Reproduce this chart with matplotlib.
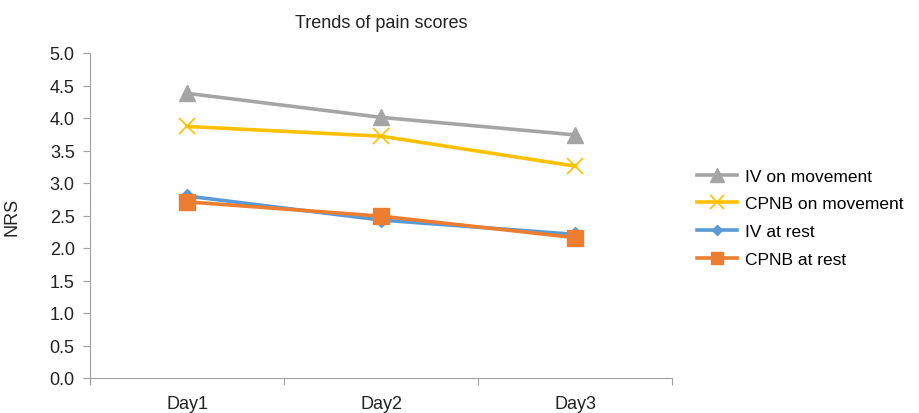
import numpy as np
import matplotlib.pyplot as plt

plt.rcParams['font.family'] = ['Liberation Sans', 'DejaVu Sans']

#data
days = ['Day1', 'Day2', 'Day3']
iv_move = [4.38, 4.01, 3.74]
cpnb_move = [3.87, 3.72, 3.26]
iv_rest = [2.80, 2.43, 2.21]
cpnb_rest = [2.71, 2.49, 2.16]

fig = plt.figure(figsize=(9.19, 4.14), dpi=100)
ax = fig.add_axes([90/919, 35/414, 582/919, 325/414])

x = np.arange(len(days)) + 0.5
ax.plot(x, iv_move, color='#A5A5A5', lw=2.6, marker='^', ms=12, label='IV on movement')
ax.plot(x, cpnb_move, color='#FFC000', lw=2.6, marker='x', ms=12, mew=1.2, label='CPNB on movement')
ax.plot(x, iv_rest, color='#5B9BD5', lw=2.6, marker='D', ms=7, label='IV at rest')
ax.plot(x, cpnb_rest, color='#ED7D31', lw=2.6, marker='s', ms=11, label='CPNB at rest')

ax.set_xlim(0, 3)
ax.set_ylim(0, 5)
ax.set_yticks(np.arange(0, 5.01, 0.5))
ax.set_yticklabels(['%.1f' % v for v in np.arange(0, 5.01, 0.5)])
ax.set_xticks([0, 1, 2, 3])
ax.set_xticklabels([])
ax.set_xticks(x, minor=True)
ax.set_xticklabels(days, minor=True)
ax.tick_params(axis='x', which='minor', length=0, pad=12, labelsize=13, labelcolor='#222222')
ax.tick_params(axis='both', which='major', color='#A0A0A0', length=5, labelsize=13, labelcolor='#222222')
ax.tick_params(axis='y', pad=6)

for s in ['top', 'right']:
    ax.spines[s].set_visible(False)
for s in ['left', 'bottom']:
    ax.spines[s].set_color('#A0A0A0')

ax.set_ylabel('NRS', fontsize=13, color='#222222')
ax.yaxis.set_label_coords(-0.12, 0.5)
ax.set_title('Trends of pain scores', fontsize=13, color='#222222', pad=19)

ax.legend(loc='center left', bbox_to_anchor=(690/919, 0.472), bbox_transform=fig.transFigure,
          frameon=False, fontsize=12.5, handlelength=2.3, labelspacing=0.72, handletextpad=0.46,
          borderaxespad=0, markerscale=0.8)

plt.savefig('out.png', dpi=100)
